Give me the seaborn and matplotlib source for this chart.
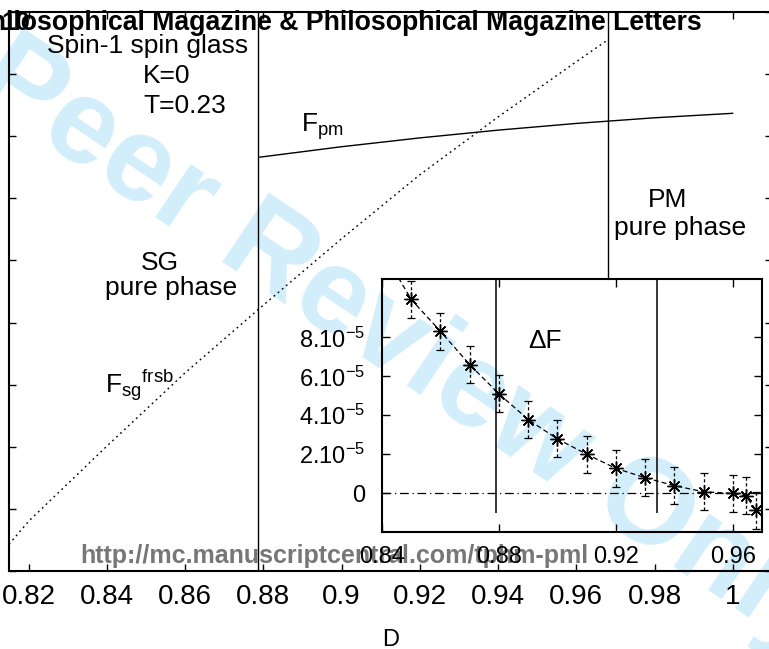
import numpy as np
import pandas as pd
import matplotlib
matplotlib.use("Agg")
import matplotlib.pyplot as plt
import seaborn as sns

# ---------------- data ----------------
# main panel: free energies vs D
D_pm = [0.879, 0.90, 0.92, 0.94, 0.96, 0.98, 1.00]
F_pm = [-0.732338, -0.732169, -0.732027, -0.731902, -0.731794, -0.731703,
        -0.731631]

D_sg = [0.815, 0.82, 0.84, 0.86, 0.88, 0.90, 0.92, 0.94, 0.96, 0.968]
F_sg = [-0.73857, -0.73820, -0.73699, -0.73581, -0.73472, -0.73365,
        -0.73262, -0.73169, -0.73080, -0.73045]

D_limits_main = [0.8786, 0.968]          # vertical boundaries (main)
main_xticks = [0.82, 0.84, 0.86, 0.88, 0.90, 0.92, 0.94, 0.96, 0.98, 1.00]
main_xticklabels = ["0.82", "0.84", "0.86", "0.88", "0.9", "0.92", "0.94",
                    "0.96", "0.98", "1"]
main_yticks = [-0.739, -0.738, -0.737, -0.736, -0.735, -0.734, -0.733,
               -0.732, -0.731, -0.730]

# inset: Delta F vs D with error bars
D_in = [0.84, 0.85, 0.86, 0.87, 0.88, 0.89, 0.90, 0.91, 0.92, 0.93, 0.94,
        0.95, 0.96, 0.9645, 0.968]
dF_in = [12.5e-5, 9.95e-5, 8.31e-5, 6.60e-5, 5.10e-5, 3.78e-5, 2.78e-5,
         2.00e-5, 1.27e-5, 0.79e-5, 0.38e-5, 0.07e-5, -0.02e-5, -0.14e-5,
         -0.89e-5]
dF_err = [0.95e-5] * len(D_in)
D_limits_inset = [0.879, 0.934]
inset_xticks = [0.84, 0.88, 0.92, 0.96]
inset_xticklabels = ["0.84", "0.88", "0.92", "0.96"]
inset_yticks = [0, 2e-5, 4e-5, 6e-5, 8e-5]
inset_yticklabels = ["0", r"2.10$^{-5}$", r"4.10$^{-5}$", r"6.10$^{-5}$",
                     r"8.10$^{-5}$"]

# ---------------- style ----------------
sns.set_theme(style="ticks")
plt.rcParams["font.family"] = ["Liberation Sans", "DejaVu Sans"]
plt.rcParams["mathtext.fontset"] = "custom"
plt.rcParams["mathtext.rm"] = "Liberation Sans"
plt.rcParams["mathtext.it"] = "Liberation Sans:italic"
plt.rcParams["mathtext.bf"] = "Liberation Sans:bold"
plt.rcParams["mathtext.default"] = "regular"
for k in ["text.color", "axes.labelcolor", "xtick.color", "ytick.color",
          "axes.edgecolor"]:
    plt.rcParams[k] = "black"

W, H = 769, 649
fig = plt.figure(figsize=(W / 100, H / 100), dpi=100)
fig.patch.set_facecolor("white")


def fx(px):
    return px / W


def fy(py):
    return 1 - py / H


# watermark (behind axes)
fig.text(fx(-220), fy(-36), "For Peer Review Only", rotation=-34,
         rotation_mode="anchor", ha="left", va="baseline", fontsize=87,
         fontweight="bold", color="#d3eefb", zorder=-5)

ax = fig.add_axes([fx(9), fy(571), (772 - 9) / W, (571 - 12) / H])
ax.set_facecolor("none")

df_pm = pd.DataFrame({"D": D_pm, "F": F_pm})
df_sg = pd.DataFrame({"D": D_sg, "F": F_sg})
sns.lineplot(data=df_pm, x="D", y="F", ax=ax, color="black", lw=1.0,
             sort=False)
sns.lineplot(data=df_sg, x="D", y="F", ax=ax, color="black", lw=1.0,
             sort=False)
ax.lines[-1].set_linestyle((0, (1.3, 2.6)))

inset_top_frac = (571 - 279) / (571 - 12)
ax.axvline(D_limits_main[0], color="black", lw=1.0)
ax.axvline(D_limits_main[1], ymin=inset_top_frac, ymax=1, color="black", lw=1.0)

ax.set_xlim(0.815, 1.01)
ax.set_ylim(-0.739, -0.730)
ax.set_xticks(main_xticks)
ax.set_xticklabels(main_xticklabels)
ax.set_yticks(main_yticks)
ax.set_yticklabels([])
ax.tick_params(direction="in", length=5, width=1.0, top=True, right=True,
               labelsize=20, pad=9, colors="black")
for s in ax.spines.values():
    s.set_linewidth(1.5)
    s.set_color("black")
ax.set_xlabel("D", fontsize=17, labelpad=14, color="black")
ax.set_ylabel("")

# URL footer (under the inset)
ax.text(fx(80), fy(563), "http://mc.manuscriptcentral.com/tphm-pml",
        transform=fig.transFigure, ha="left", va="baseline", fontsize=18,
        fontweight="bold", color="#777777", zorder=0.5)

# annotations main
fig.text(fx(148), fy(53), "Spin-1 spin glass", ha="center", va="baseline",
         fontsize=19)
fig.text(fx(143), fy(83), "K=0", ha="left", va="baseline", fontsize=19)
fig.text(fx(143), fy(113), "T=0.23", ha="left", va="baseline", fontsize=19)
fig.text(fx(301), fy(132), r"F$_{pm}$", ha="left", va="baseline", fontsize=19)
fig.text(fx(160), fy(270), "SG", ha="center", va="baseline", fontsize=19)
fig.text(fx(171), fy(295), "pure phase", ha="center", va="baseline",
         fontsize=19)
fig.text(fx(668), fy(207), "PM", ha="center", va="baseline", fontsize=19)
fig.text(fx(680), fy(235), "pure phase", ha="center", va="baseline",
         fontsize=19)
fig.text(fx(105), fy(393), r"F$_{sg}{}^{frsb}$", ha="left", va="baseline",
         fontsize=19)

# header
fig.text(fx(702), fy(30), "Philosophical Magazine & Philosophical Magazine Letters",
         ha="right", va="baseline", fontsize=19.2, fontweight="bold",
         color="black", zorder=6)
fig.text(fx(30), fy(30), "10", ha="right", va="baseline", fontsize=18.8,
         fontweight="bold", color="black", zorder=6)

# ---------------- inset ----------------
ax2 = fig.add_axes([fx(382), fy(532), (762 - 382) / W, (532 - 279) / H])
ax2.set_facecolor("none")
ax2.set_xlim(0.84, 0.97)
ax2.set_ylim(-2e-5, 11e-5)

ax2.axhline(0, color="black", lw=0.9, ls=(0, (7, 3, 1, 3)))
ax2.vlines(D_limits_inset, -1e-5, 11e-5, color="black", lw=1.1)

eb = ax2.errorbar(D_in, dF_in, yerr=dF_err, fmt="none", ecolor="black",
                  elinewidth=0.9, capsize=3.2, capthick=0.9)
eb[2][0].set_linestyle((0, (2.5, 2)))

df_in = pd.DataFrame({"D": D_in, "dF": dF_in})
sns.lineplot(data=df_in, x="D", y="dF", ax=ax2, color="black", lw=0.9,
             sort=False, marker=(8, 2, 0), markersize=10,
             markeredgecolor="black", markeredgewidth=1.0)
ax2.lines[-1].set_linestyle((0, (4, 2.5)))

ax2.set_xticks(inset_xticks)
ax2.set_xticklabels(inset_xticklabels)
ax2.set_yticks(inset_yticks)
ax2.set_yticklabels(inset_yticklabels)
ax2.tick_params(axis="x", direction="in", length=6, width=1.0, top=True,
                labelsize=17, pad=10, colors="black")
ax2.tick_params(axis="y", direction="in", length=6, width=1.0, right=True,
                labelsize=17, pad=12, colors="black")
for s in ax2.spines.values():
    s.set_linewidth(1.5)
    s.set_color("black")
ax2.set_xlabel("")
ax2.set_ylabel("")
ax2.text(fx(528), fy(348), "\u0394F", transform=fig.transFigure, ha="left",
         va="baseline", fontsize=19)

fig.savefig("out.png", dpi=100)
